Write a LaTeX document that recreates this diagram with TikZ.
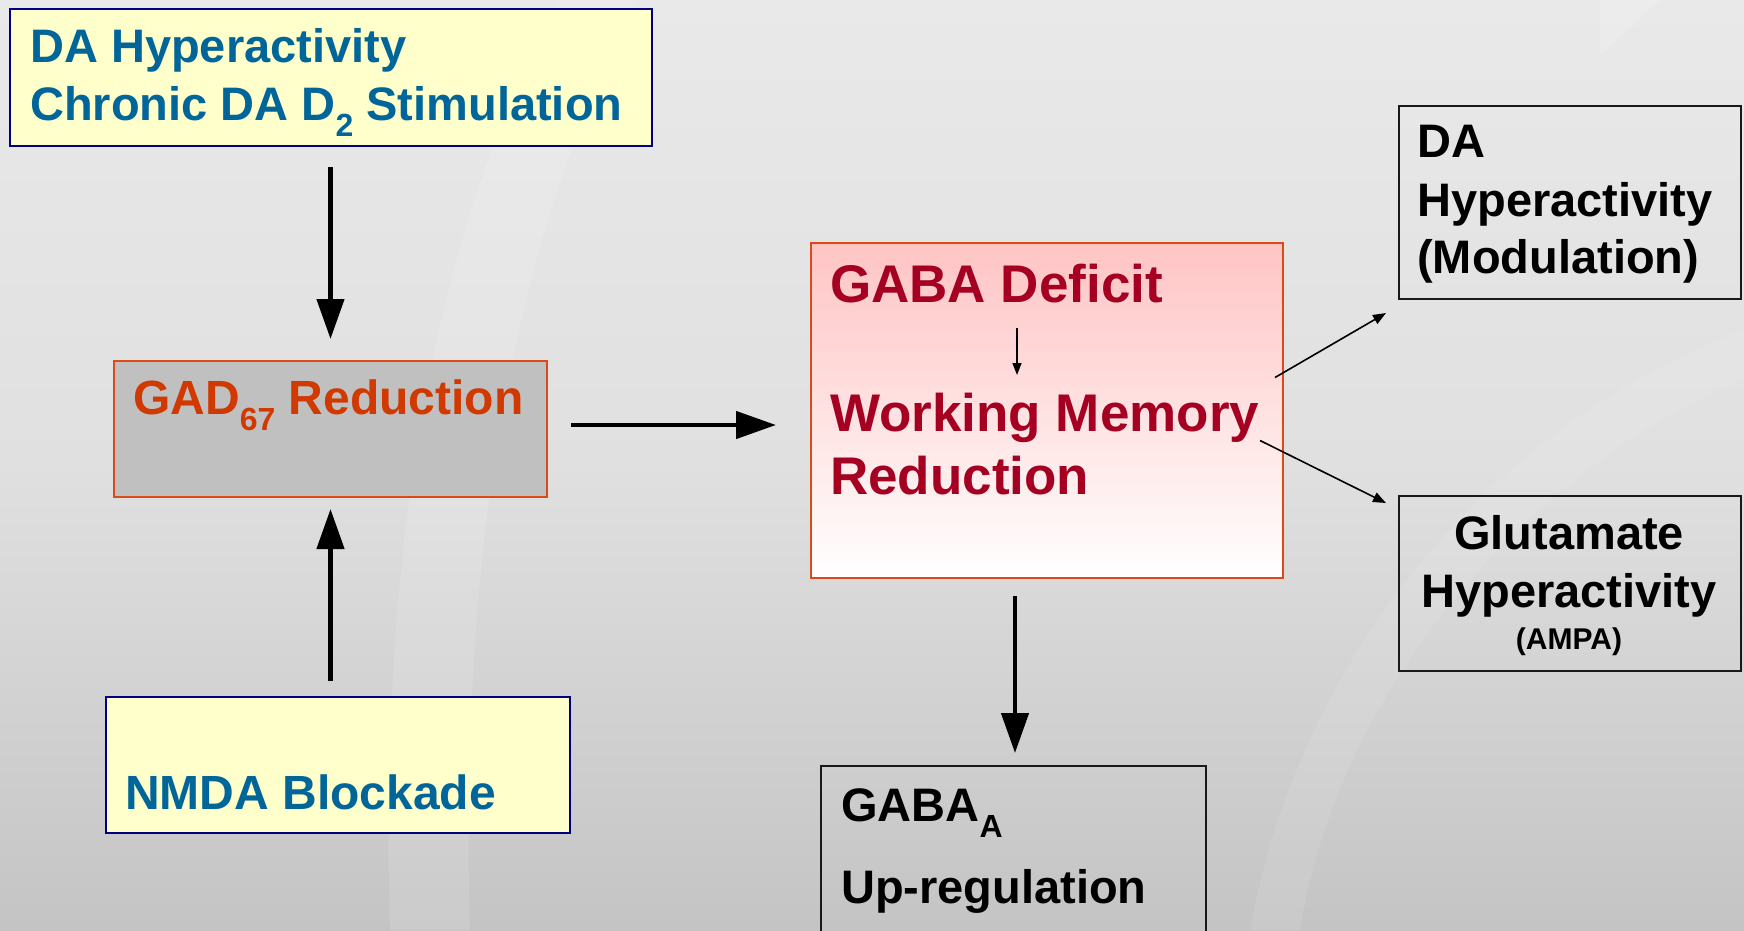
\documentclass[tikz,border=0pt]{standalone}
\usepackage{fontspec}
\setmainfont{Liberation Sans}
\usetikzlibrary{arrows.meta,calc}

\definecolor{bgtop}{HTML}{E9E9E9}
\definecolor{bgmid}{HTML}{E0E0E0}
\definecolor{bgbot}{HTML}{C4C4C4}
\definecolor{pale}{HTML}{FFFFCC}
\definecolor{navy}{HTML}{000080}
\definecolor{steel}{HTML}{006699}
\definecolor{rust}{HTML}{D03A00}
\definecolor{rustline}{HTML}{DD4A1A}
\definecolor{gadgray}{HTML}{C0C0C0}
\definecolor{wine}{HTML}{A50021}
\definecolor{blush}{HTML}{FFC4C4}

\tikzset{
  box/.style={draw, rectangle, inner sep=0pt, anchor=north west},
  yellowbox/.style={box, fill=pale, draw=navy, line width=2pt},
  plainbox/.style={box, draw=black!90, line width=2pt},
  txt/.style={inner sep=0pt, anchor=base west, font=\bfseries},
  bigarrow/.style={line width=4.5pt, -{Triangle[width=27pt,length=40pt]}},
  thinarrow/.style={line width=1.6pt, -{Triangle[width=10pt,length=13pt]}},
}

\newcommand{\px}[1]{\fontsize{#1}{#1}\selectfont}
\newcommand{\lowsub}[1]{\raisebox{-16pt}{\px{32}#1}}

\begin{document}
\begin{tikzpicture}[x=1pt,y=-1pt]
  % slide background
  \useasboundingbox (0,0) rectangle (1744,930);
  \shade[top color=bgtop, bottom color=bgbot, middle color=bgmid] (0,0) rectangle (1744,930);
  \fill[white, opacity=0.12] (390,930) .. controls (380,600) and (420,250) .. (560,0)
        -- (640,0) .. controls (500,250) and (460,600) .. (470,930) -- cycle;
  \fill[white, opacity=0.09] (1250,930) .. controls (1300,650) and (1500,420) .. (1744,330)
        -- (1744,380) .. controls (1540,460) and (1340,680) .. (1300,930) -- cycle;
  \fill[white, opacity=0.15] (1600,55) -- (1660,0) -- (1600,0) -- cycle;

  % boxes
  \node[yellowbox, minimum width=642pt, minimum height=137pt] (dahyper) at (9,8) {};
  \node[box, fill=gadgray, draw=rustline, line width=2pt, minimum width=433pt, minimum height=136pt] (gad) at (113,360) {};
  \node[yellowbox, minimum width=464pt, minimum height=136pt] (nmda) at (105,696) {};
  \node[box, top color=blush, bottom color=white, draw=rustline, line width=2pt, minimum width=472pt, minimum height=335pt] (gaba) at (810,242) {};
  \node[plainbox, minimum width=342pt, minimum height=193pt] (damod) at (1398,105) {};
  \node[plainbox, minimum width=342pt, minimum height=175pt] (glut) at (1398,495) {};
  \draw[black!90, line width=2pt] (821,940) |- (1206,766) -- (1206,940);
  \coordinate (gabaa) at (1015,766);

  % texts
  \node[txt, text=steel] (t1) at (30,62) {\px{47}DA Hyperactivity};
  \node[txt, text=steel] (t2) at (30,120) {\px{47}Chronic DA D\lowsub{2} Stimulation};
  \node[txt, text=rust] (t3) at (133,414) {\px{48}GAD\lowsub{67} Reduction};
  \node[txt, text=steel] (t4) at (125,809) {\px{48}NMDA Blockade};
  \node[txt, text=wine] (deficit) at (830,302) {\px{53}GABA Deficit};
  \node[txt, text=wine] (working) at (830,431) {\px{53}Working Memory};
  \node[txt, text=wine] (t7) at (830,494) {\px{53}Reduction};
  \node[txt] (t8) at (1417,157) {\px{47}DA};
  \node[txt] (t9) at (1417,216) {\px{47}Hyperactivity};
  \node[txt] (t10) at (1417,273) {\px{47}(Modulation)};
  \node[txt, anchor=base] (t11) at (1569,549) {\px{47}Glutamate};
  \node[txt, anchor=base] (t12) at (1569,607) {\px{47}Hyperactivity};
  \node[txt, anchor=base] (t13) at (1569,649) {\px{30}(AMPA)};
  \node[txt] (t14) at (841,821) {\px{47}GABA\lowsub{A}};
  \node[txt] (t15) at (841,903) {\px{47}Up-regulation};

  % connectors
  \draw[bigarrow, shorten <=20pt, shorten >=21pt] (dahyper.south -| gad.north) -- (gad.north);
  \draw[bigarrow, shorten <=15pt, shorten >=11pt] (nmda.north -| gad.south) -- (gad.south);
  \draw[bigarrow, shorten <=23pt, shorten >=34pt] ([yshift=4pt]gad.east) -- ([yshift=4pt]gad.east -| gaba.west);
  \draw[bigarrow, shorten <=17pt, shorten >=13pt] (gabaa |- gaba.south) -- (gabaa);
  \draw[line width=1.5pt, -{Triangle[width=9pt,length=12pt]}] (1017,328) -- (1017,375);
  \coordinate (o1) at ([xshift=-9pt,yshift=33pt]gaba.east);
  \coordinate (o2) at ([xshift=-24pt,yshift=-30pt]gaba.east);
  \draw[thinarrow] (o1) -- ([xshift=-12pt,yshift=-13pt]damod.south west);
  \draw[thinarrow] (o2) -- ([xshift=-12pt,yshift=-8pt]glut.north west);
\end{tikzpicture}
\end{document}
